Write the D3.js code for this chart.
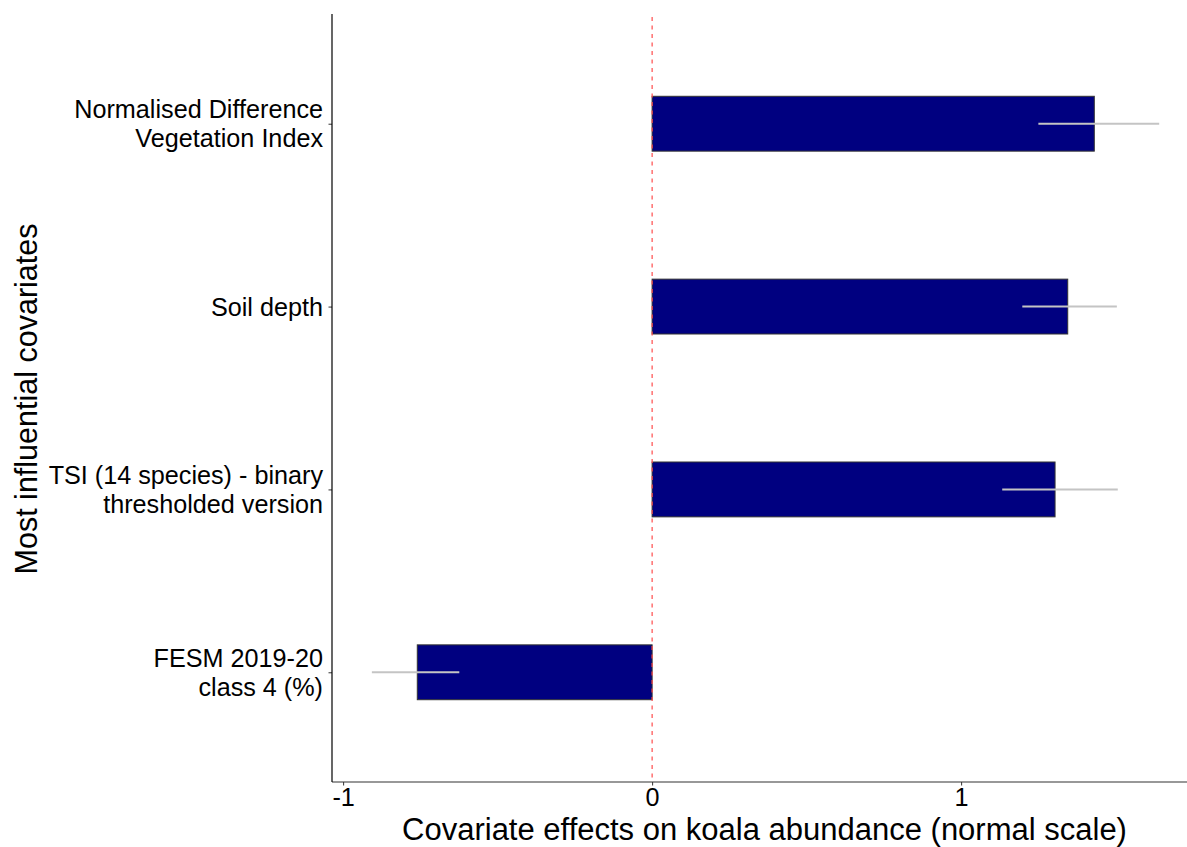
<!DOCTYPE html>
<html><head><meta charset="utf-8">
<script src="https://cdn.jsdelivr.net/npm/d3@7"></script>
<style>body{margin:0;background:#fff}svg{display:block}text{font-family:"Liberation Sans",Arial,sans-serif}</style>
</head><body><svg id="c" width="1187" height="847"></svg>
<script>
const categories = [
  ["Normalised Difference", "Vegetation Index"],
  ["Soil depth"],
  ["TSI (14 species) - binary", "thresholded version"],
  ["FESM 2019-20", "class 4 (%)"]
];
const effects = [1.431, 1.345, 1.304, -0.760];
const lowerCI = [1.250, 1.198, 1.133, -0.907];
const upperCI = [1.641, 1.504, 1.507, -0.624];
const xTicks = [-1, 0, 1];
const xTitle = "Covariate effects on koala abundance (normal scale)";
const yTitle = "Most influential covariates";

const svg = d3.select("#c");
const L = 332, R = 1187, T = 14, B = 782;
const keys = categories.map(c => c.join(" "));
const x = d3.scaleLinear().domain([-1.036, 1.731]).range([L, R]);
const y = d3.scalePoint().domain(keys).range([T, B]).padding(0.6);
const bh = y.step() * 0.3;
const tickFs = 25.2, xTitleFs = 31, yTitleFs = 30.5;

// bars
svg.selectAll("rect.bar").data(keys).enter().append("rect")
  .attr("x", (k,i) => x(Math.min(0, effects[i])))
  .attr("width", (k,i) => Math.abs(x(effects[i]) - x(0)))
  .attr("y", k => y(k) - bh/2)
  .attr("height", bh)
  .attr("fill", "#000080").attr("stroke", "#333").attr("stroke-width", 1);

// error lines
svg.selectAll("line.err").data(keys).enter().append("line")
  .attr("x1", (k,i) => x(lowerCI[i])).attr("x2", (k,i) => x(upperCI[i]))
  .attr("y1", k => y(k)).attr("y2", k => y(k))
  .attr("stroke", "#c4c4c4").attr("stroke-width", 2);

// zero line
svg.append("line").attr("x1", x(0)).attr("x2", x(0)).attr("y1", T + 3).attr("y2", B)
  .attr("stroke", "#ff4d4d").attr("stroke-width", 1.2).attr("stroke-dasharray", "4,4.5");

// x axis
const xa = svg.append("g").attr("transform", `translate(0,${B})`)
  .call(d3.axisBottom(x).tickValues(xTicks).tickSize(3.5).tickPadding(3).tickFormat(d3.format("d")));
xa.select(".domain").remove();
xa.selectAll(".tick line").attr("stroke", "#333");
xa.selectAll(".tick text").attr("font-size", tickFs).attr("fill", "#000")
  .text(d => d < 0 ? "-" + Math.abs(d) : d);
svg.append("line").attr("x1", L).attr("x2", R).attr("y1", B).attr("y2", B).attr("stroke", "#333").attr("stroke-width", 1.2);

// y axis
const ya = svg.append("g").attr("transform", `translate(${L},0)`)
  .call(d3.axisLeft(y).tickSize(3.5).tickPadding(6).tickFormat(() => ""));
ya.select(".domain").remove();
ya.selectAll(".tick line").attr("stroke", "#333");
svg.append("line").attr("x1", L).attr("x2", L).attr("y1", T).attr("y2", B).attr("stroke", "#000").attr("stroke-width", 1.2);

const lh = 29;
svg.selectAll("text.ylab").data(categories).enter().append("text")
  .attr("text-anchor", "end").attr("font-size", tickFs).attr("fill", "#000")
  .each(function(lines, i) {
    const cy = y(keys[i]);
    const t = d3.select(this);
    const n = lines.length;
    lines.forEach((s, j) => {
      t.append("tspan").attr("x", L - 9)
        .attr("y", cy + (j - (n-1)/2) * lh + 9).text(s);
    });
  });

// titles
svg.append("text").attr("x", (L + R)/2 + 5).attr("y", 840)
  .attr("text-anchor", "middle").attr("font-size", xTitleFs).attr("fill", "#000").text(xTitle);
svg.append("text").attr("transform", `translate(37,${(T+B)/2 + 1}) rotate(-90)`)
  .attr("text-anchor", "middle").attr("font-size", yTitleFs).attr("fill", "#000").text(yTitle);
</script></body></html>
